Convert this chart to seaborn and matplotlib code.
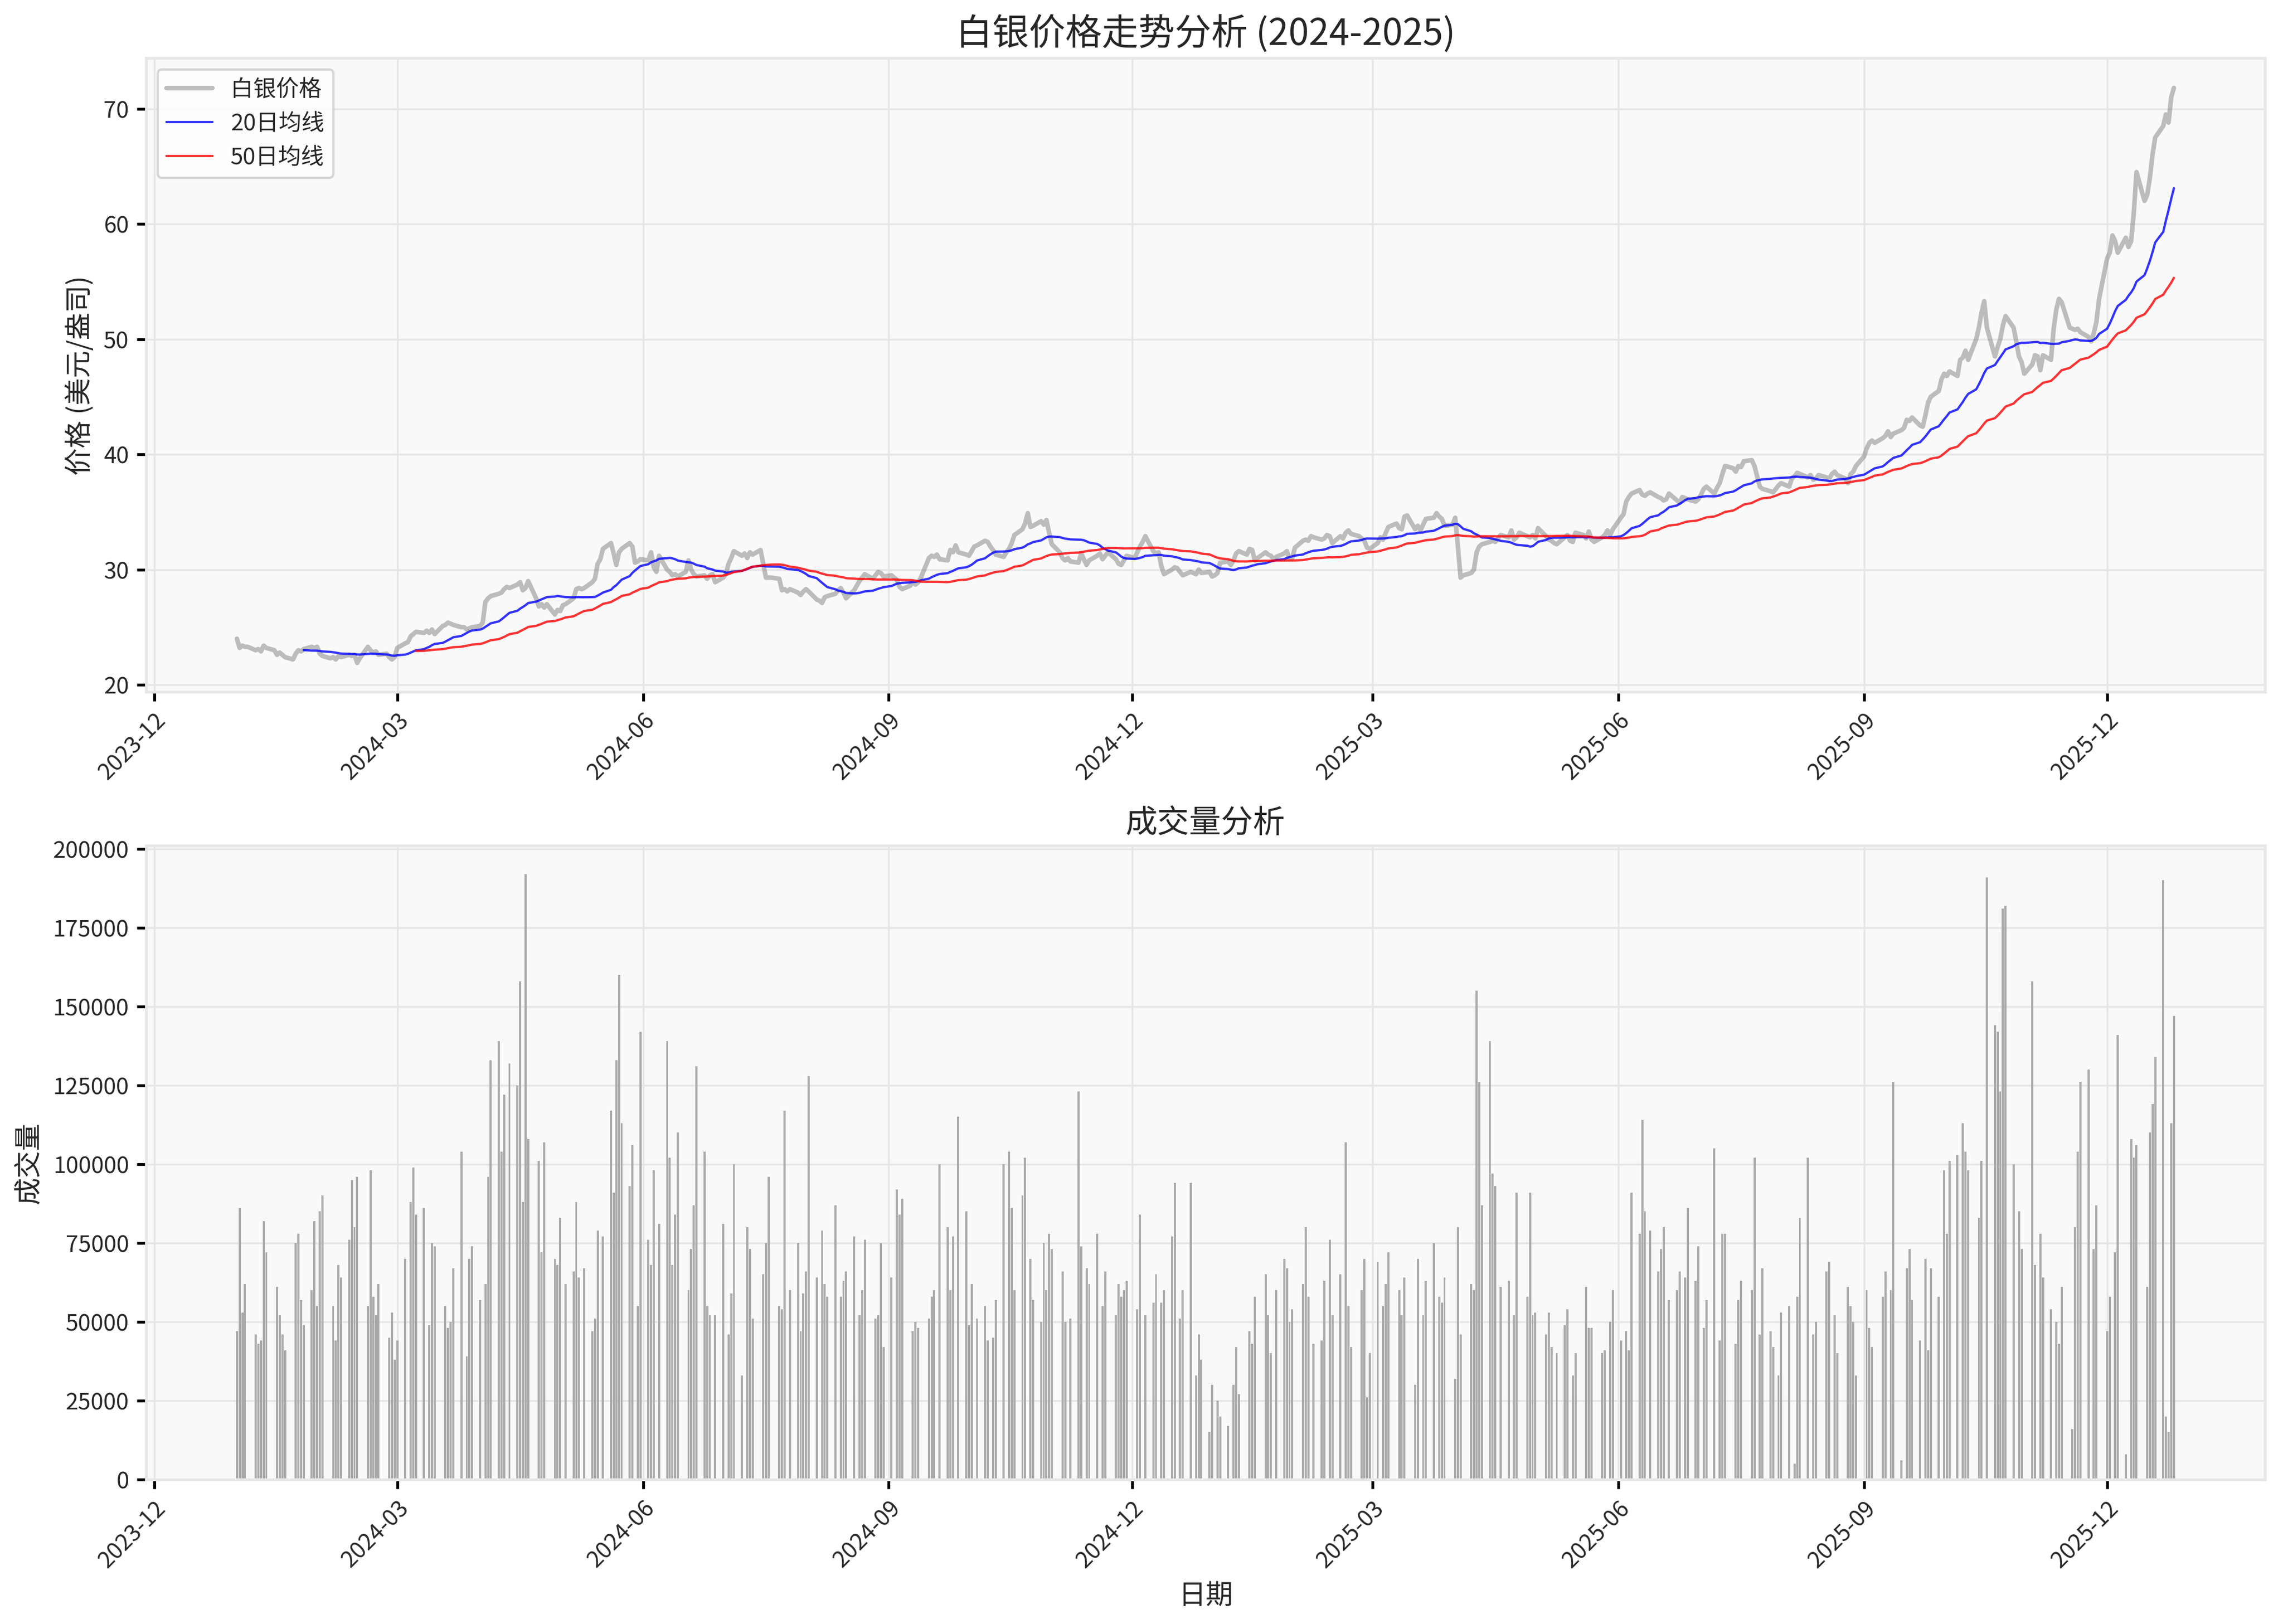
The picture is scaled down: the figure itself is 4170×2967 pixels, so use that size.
import numpy as np
import pandas as pd
import matplotlib
matplotlib.use("Agg")
import matplotlib.pyplot as plt
import matplotlib.dates as mdates
import seaborn as sns

price_2024 = [
 24.0,23.2,23.4,23.3,23.3,23.0,23.1,22.9,23.4,23.2,23.0,22.6,22.8,22.6,22.4,22.2,22.7,23.0,22.9,23.1,23.3,23.2,23.3,
 22.7,22.5,22.3,22.4,22.2,22.5,22.4,22.6,22.5,22.6,21.9,22.3,23.3,23.0,22.8,22.9,22.6,22.7,22.4,22.2,22.4,
 23.2,23.6,23.7,24.2,24.4,24.6,24.5,24.7,24.5,24.8,24.4,25.1,25.2,25.4,25.3,25.2,25.0,25.0,24.8,24.9,25.0,
 25.1,25.4,27.2,27.5,27.7,27.9,28.0,28.3,28.5,28.4,28.7,28.9,28.2,28.4,29.0,27.5,26.8,27.0,26.7,27.0,26.1,26.5,
 26.4,26.9,27.0,27.5,28.3,28.4,28.3,28.4,28.9,29.2,30.5,30.9,31.8,32.3,31.4,30.4,31.5,31.8,32.3,32.0,30.6,30.7,30.9,
 30.8,31.5,30.2,29.8,31.2,30.0,29.8,29.5,29.6,29.4,29.8,30.8,30.0,29.6,29.4,29.5,29.2,29.5,29.6,28.9,
 29.3,29.6,30.5,31.0,31.6,31.2,31.4,31.0,31.5,31.3,31.7,30.5,29.3,29.3,29.3,29.2,28.2,28.3,28.1,28.3,28.0,27.8,28.1,
 28.3,28.1,27.4,27.3,27.1,27.6,27.7,27.9,28.2,28.4,28.0,27.5,28.2,28.6,29.0,29.3,29.6,29.2,29.5,29.8,29.7,29.4,
 29.5,29.3,29.1,28.5,28.3,28.6,28.9,28.7,28.9,29.3,31.0,31.2,31.1,31.3,30.9,30.8,31.7,31.5,32.1,31.5,
 31.3,31.2,31.6,32.0,32.1,32.5,32.4,32.0,31.7,31.3,31.1,31.5,31.8,32.3,33.0,33.5,34.0,34.9,33.7,33.8,34.2,33.9,34.3,
 33.2,32.2,31.5,31.0,30.8,31.0,30.7,30.6,31.4,30.9,30.4,30.8,31.2,31.4,30.9,31.2,31.5,30.9,30.5,30.4,30.8,
 31.2,31.0,31.5,32.0,32.4,32.9,31.6,31.4,31.5,30.3,29.6,30.0,30.2,30.1,29.8,29.5,29.8,29.7,29.6,30.0,29.7,29.8,
]
price_2025 = [
 29.4,29.5,29.7,30.6,30.7,30.4,30.8,31.4,31.6,31.3,31.8,31.7,30.8,31.0,31.5,31.3,31.2,30.9,31.1,31.4,31.6,30.9,31.0,
 31.9,32.5,32.6,32.5,32.9,32.8,32.6,32.7,33.0,32.9,32.3,32.9,32.7,33.2,33.4,33.1,32.9,32.7,32.5,31.9,
 31.8,32.3,32.8,32.6,33.2,33.7,34.0,33.6,33.5,34.6,34.7,33.5,33.8,33.4,33.9,34.4,34.5,34.9,34.6,34.4,33.8,
 33.9,34.5,32.0,29.3,29.5,29.7,30.0,31.5,32.0,32.2,32.4,32.5,32.4,32.7,33.0,32.8,33.4,32.6,32.8,33.2,32.9,32.8,
 33.0,32.7,33.6,32.9,32.6,32.5,32.3,32.2,32.8,33.0,32.5,32.4,33.2,33.0,32.7,33.3,32.6,32.4,32.8,33.0,33.4,33.0,
 33.5,34.5,34.8,35.9,36.3,36.6,36.9,36.5,36.4,36.6,36.7,36.3,36.2,36.0,36.1,36.6,36.0,35.8,36.3,36.2,36.1,
 35.9,36.1,36.5,37.0,37.2,36.6,37.1,37.5,38.3,39.0,38.8,38.5,39.0,38.9,39.4,39.5,39.0,38.1,37.2,37.0,36.8,36.7,37.0,
 37.3,37.5,37.2,37.9,38.1,38.4,38.3,38.0,38.2,37.8,37.9,38.2,38.0,37.9,38.3,38.5,38.2,37.9,37.5,38.3,38.5,
 39.0,39.8,40.5,41.0,41.2,41.0,41.4,41.6,42.0,41.5,41.8,42.1,42.3,43.0,42.9,43.2,42.5,42.4,43.4,44.5,45.0,45.5,
 46.5,47.0,46.8,47.2,46.8,48.2,48.4,49.0,48.2,50.0,51.0,52.3,53.3,51.0,48.5,49.3,50.0,51.2,52.0,51.0,49.8,48.5,48.0,
 47.0,47.8,48.6,48.5,47.3,48.6,48.2,50.9,52.6,53.5,53.2,51.0,50.9,50.8,50.9,50.6,50.2,49.8,50.5,51.5,53.5,
 57.0,57.5,59.0,58.5,57.5,58.8,58.0,58.5,61.0,64.5,62.0,62.5,64.0,66.0,67.5,68.5,69.5,68.8,71.0,71.8,
]
# volume in thousands (0 = no bar)
vol_2024 = [
 47,86,53,62,0,46,43,44,82,72,0,61,52,46,41,0,75,78,57,49,60,82,55,
 85,90,0,55,44,68,64,76,95,80,96,0,55,98,58,52,62,0,45,53,
 38,44,70,0,88,99,84,86,0,49,75,74,0,55,48,50,67,104,0,39,70,
 74,57,0,62,96,133,139,104,122,0,132,125,158,88,192,108,0,101,72,107,0,70,
 68,83,0,62,66,88,64,0,67,47,51,79,0,77,117,91,133,160,113,93,106,0,55,
 142,76,68,98,0,81,139,102,68,84,110,0,60,73,87,131,104,55,52,0,
 52,81,0,46,59,100,33,0,80,73,51,0,65,75,96,0,55,54,117,0,60,75,47,
 59,66,128,64,0,79,62,58,87,0,58,63,66,77,0,52,60,76,0,51,52,75,
 42,64,0,92,84,89,0,47,50,48,0,51,58,60,0,100,80,60,77,0,
 115,85,49,62,0,51,55,44,0,45,57,100,0,104,86,60,90,102,0,70,57,50,75,
 60,78,73,0,66,50,0,51,123,74,0,67,62,78,0,55,66,0,52,62,58,
 60,63,0,54,84,0,52,56,65,0,56,60,77,94,0,51,60,94,0,33,46,38,
]
vol_2025 = [
 15,30,0,25,20,17,0,30,42,27,0,47,43,58,0,65,52,40,0,60,70,67,50,
 54,0,62,80,58,0,43,44,63,0,76,52,65,0,107,55,42,0,60,70,26,
 40,69,0,55,62,72,0,60,52,64,0,30,70,0,52,63,75,0,58,56,64,
 0,32,80,46,0,62,60,155,126,87,139,97,93,0,61,63,0,52,91,0,58,91,
 52,53,0,46,53,42,0,40,49,54,0,33,40,0,61,48,48,0,40,41,0,50,
 60,44,0,47,41,91,78,114,85,0,79,66,73,80,0,57,60,66,0,64,86,
 63,74,0,48,57,105,0,44,78,78,0,43,57,63,0,60,102,0,46,67,47,42,0,
 33,53,55,0,5,58,83,102,0,46,50,0,66,69,0,52,40,0,61,55,50,
 33,0,60,48,42,0,58,66,0,60,126,6,0,67,73,57,44,0,70,41,67,58,
 0,98,78,101,103,0,113,104,98,0,83,101,0,191,144,142,123,181,182,100,0,85,73,
 0,158,68,0,78,64,54,0,50,43,61,0,16,80,104,126,130,0,73,87,0,
 47,58,0,72,141,8,0,108,102,106,0,61,110,119,134,190,20,15,113,147,97,128,95,
]

price = price_2024 + price_2025
vol_k = (vol_2024 + vol_2025)[:len(price)]

dates = pd.bdate_range("2024-01-01", periods=len(price))
df = pd.DataFrame({"date": dates, "price": price})
df["ma20"] = df["price"].rolling(20).mean()
df["ma50"] = df["price"].rolling(50).mean()
vdates = pd.bdate_range("2024-01-01", periods=len(vol_k))
vol = np.array(vol_k) * 1000

sns.set_theme(style="whitegrid")
plt.rcParams["font.family"] = ["Noto Sans CJK SC", "DejaVu Sans"]
plt.rcParams["axes.unicode_minus"] = False

fig, (ax1, ax2) = plt.subplots(2, 1, figsize=(13.9, 9.893), dpi=300)
for ax in (ax1, ax2):
    ax.set_facecolor("#f9f9f9")
    ax.grid(True, color="#e6e6e6", linewidth=0.8)
    for s in ax.spines.values():
        s.set_color("#e8e8e8")
    ax.tick_params(axis="both", labelsize=10, length=4, color="black", left=True, bottom=True)

sns.lineplot(data=df, x="date", y="price", ax=ax1, color="gray", alpha=0.5, linewidth=2, label="白银价格")
sns.lineplot(data=df, x="date", y="ma20", ax=ax1, color="blue", alpha=0.8, linewidth=1, label="20日均线")
sns.lineplot(data=df, x="date", y="ma50", ax=ax1, color="red", alpha=0.8, linewidth=1, label="50日均线")
ax1.set_title("白银价格走势分析 (2024-2025)", fontsize=16)
ax1.set_ylabel("价格 (美元/盎司)", fontsize=12)
ax1.set_xlabel("")
ax1.legend(loc="upper left", fontsize=10, frameon=True)

ax2.bar(vdates, vol, width=0.8, color="#aaaaaa", linewidth=0)
ax2.set_title("成交量分析", fontsize=14)
ax2.set_ylabel("成交量", fontsize=12)
ax2.set_xlabel("日期", fontsize=12)

xmin = pd.Timestamp("2023-11-28"); xmax = pd.Timestamp("2026-01-29")
for ax in (ax1, ax2):
    ax.set_xlim(xmin, xmax)
    ax.xaxis.set_major_locator(mdates.MonthLocator(bymonth=[3, 6, 9, 12]))
    ax.xaxis.set_major_formatter(mdates.DateFormatter("%Y-%m"))
    plt.setp(ax.get_xticklabels(), rotation=45, ha="right", rotation_mode="anchor")
ax1.set_ylim(19.4, 74.4)
ax1.set_yticks([20, 30, 40, 50, 60, 70])
ax2.set_ylim(0, 201000)
ax2.set_yticks(np.arange(0, 200001, 25000))

fig.subplots_adjust(left=0.064, right=0.992, top=0.964, bottom=0.089, hspace=0.243)
fig.savefig("out.png", dpi=300)
